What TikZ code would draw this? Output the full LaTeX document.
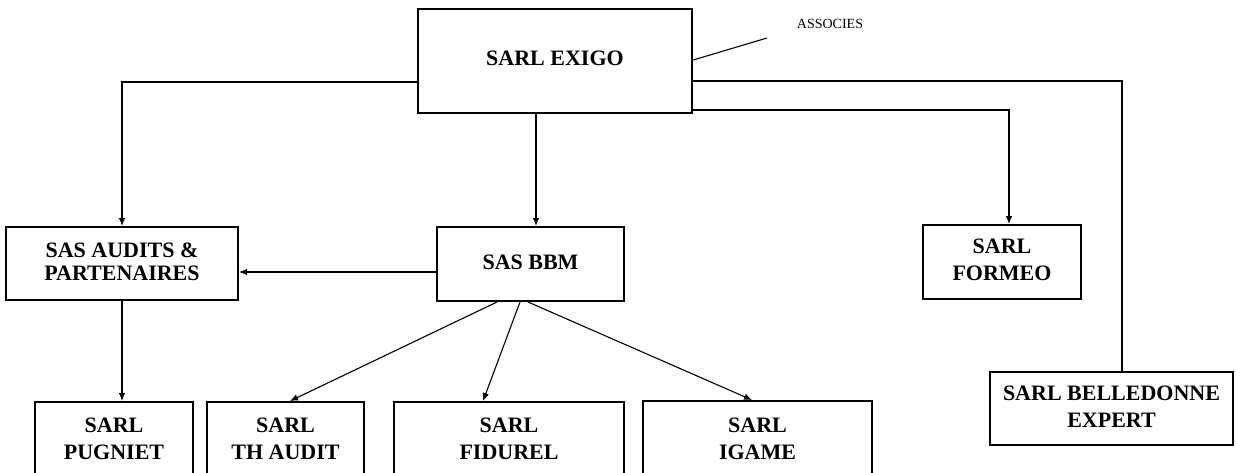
\documentclass[tikz,border=0pt]{standalone}
\usepackage{fontspec}
\setmainfont{Liberation Serif}
\usetikzlibrary{arrows.meta}
\newcommand\twolines[3][27pt]{\begin{tabular}{@{}c@{}}#2\\[\dimexpr#1-27pt\relax]#3\end{tabular}}
\begin{document}
\begin{tikzpicture}[x=1pt,y=-1pt,
  box/.style={draw=black,line width=2pt,align=center,inner sep=0pt,
    font=\fontsize{22}{27}\selectfont\bfseries},
  conn/.style={line width=1.1pt,draw=black},
  arr/.style={conn,-{Latex[length=8pt,width=6.5pt]}}]
\useasboundingbox (0,0) rectangle (1236,472);
\fill[white] (0,0) rectangle (1236,472);
% boxes
\node[box,minimum width=274pt,minimum height=104pt,line width=2.4pt] (exigo) at (555,61) {\raisebox{6pt}{SARL EXIGO}};
\node[box,minimum width=232pt,minimum height=73pt] (audits) at (122,263.5) {\raisebox{4pt}{\twolines[23pt]{SAS AUDITS \&}{PARTENAIRES}}};
\node[box,minimum width=187pt,minimum height=74pt] (bbm) at (530.5,264) {\raisebox{4pt}{SAS BBM}};
\node[box,minimum width=158pt,minimum height=74pt] (formeo) at (1002,262) {\raisebox{1.5pt}{\twolines{SARL}{FORMEO}}};
\node[box,minimum width=243pt,minimum height=73pt] (belle) at (1111.5,408.5) {\raisebox{2.5pt}{\twolines{SARL BELLEDONNE}{EXPERT}}};
\node[box,minimum width=158pt,minimum height=78pt] (pugniet) at (114,441) {\raisebox{4pt}{\twolines{SARL}{PUGNIET}}};
\node[box,minimum width=157pt,minimum height=78pt] (thaudit) at (285.5,441) {\raisebox{4pt}{\twolines{SARL}{TH AUDIT}}};
\node[box,minimum width=230pt,minimum height=78pt] (fidurel) at (509,441) {\raisebox{4pt}{\twolines{SARL}{FIDUREL}}};
\node[box,minimum width=229pt,minimum height=79pt] (igame) at (757.5,440.5) {\raisebox{4pt}{\twolines{SARL}{IGAME}}};
\node[font=\fontsize{14}{16}\selectfont] (assoc) at (830,24) {ASSOCIES};
% helper coordinates
\coordinate (yl) at (0,82);
\coordinate (xr) at (1122,81);
\coordinate (xf) at (1009,110);
\coordinate (xb) at (536,0);
\coordinate (ya) at (0,272);
\coordinate (asend) at (767,38);
\coordinate (ye) at (0,60);
% connectors
\draw[arr] (exigo.west |- yl) -| (audits.north);
\draw[conn] (exigo.east |- xr) -- (xr) -- (xr |- belle.north);
\draw[arr] (exigo.east |- xf) -| (xf |- formeo.north);
\draw[conn] (exigo.east |- ye) -- (asend);
\draw[arr] (exigo.south -| xb) -- (bbm.north -| xb);
\draw[arr] (bbm.west |- ya) -- (audits.east |- ya);
\draw[arr] (audits.south) -- (audits.south |- pugniet.north);
\draw[arr] ([xshift=-33.5pt]bbm.south) -- ([xshift=4.5pt]thaudit.north);
\draw[arr] ([xshift=-10.5pt]bbm.south) -- ([xshift=-26pt]fidurel.north);
\draw[arr] ([xshift=-2.5pt]bbm.south) -- ([xshift=-5.5pt]igame.north);
\end{tikzpicture}
\end{document}
